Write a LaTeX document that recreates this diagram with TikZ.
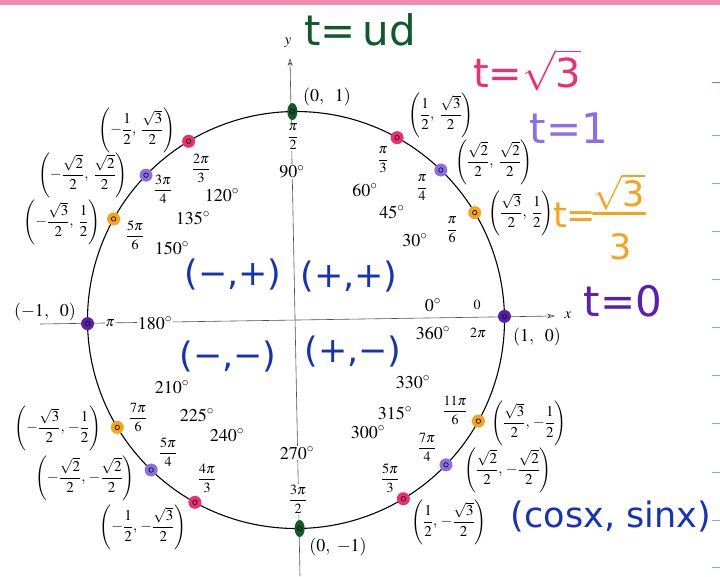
\documentclass[tikz,border=0pt]{standalone}
\usepackage{mathptmx}
\usepackage{fontspec}
\setmainfont{Liberation Serif}
\newfontfamily\hw{DejaVu Sans}
\usetikzlibrary{arrows.meta,shapes.geometric}
\definecolor{mgreen}{HTML}{0E5A28}
\definecolor{mpink}{HTML}{EC2F74}
\definecolor{mlav}{HTML}{8C6EE6}
\definecolor{morange}{HTML}{F7A21B}
\definecolor{mpurple}{HTML}{5B1FB0}
\definecolor{mblue}{HTML}{1632B8}
\definecolor{stripe}{HTML}{F38BB1}
\definecolor{tickc}{HTML}{8FA6DD}
\definecolor{axisc}{HTML}{505050}
\newcommand\fr[2]{\displaystyle\frac{#1}{#2}}
\begin{document}
\begin{tikzpicture}[x=1pt,y=-1pt,
  deg/.style={font=\fontsize{18}{20}\selectfont, inner sep=1pt},
  ang/.style={font=\fontsize{14}{16}\selectfont, inner sep=1pt},
  crd/.style={font=\fontsize{15}{17}\selectfont, inner sep=1pt},
  onaxis/.style={fill=white},
  hand/.style={font=\hw\fontsize{42}{48}\selectfont, inner sep=0pt},
  hands/.style={font=\hw\fontsize{35}{40}\selectfont, inner sep=0pt},
  blob/.style={circle, inner sep=0pt, minimum size=13pt},
  gblob/.style={ellipse, inner sep=0pt, minimum width=10pt, minimum height=17pt, fill=mgreen},
  ptmark/.style={circle, draw=black, inner sep=0pt, minimum size=4.5pt, line width=0.6pt},
  axisline/.style={draw=axisc, line width=0.6pt, -{Stealth[open,length=8pt,width=5pt]}},
]
\useasboundingbox (0,0) rectangle (720,576);
\fill[white] (0,0) rectangle (720,576);
\fill[stripe] (0,0) rectangle (720,5);
% notebook ticks at the right edge
\draw[mpink!80, line width=1pt] (712,82) -- (720,82);
\foreach \yy in {135,183,231,279,327,375,423,472,520,567}
  \draw[tickc, line width=0.8pt] (712,\yy) -- (720,\yy);

% axes
\coordinate (O) at (296,320);
\coordinate (ybot) at (300,576);
\coordinate (ytip) at (290,58);
\coordinate (xleft) at (40,324);
\coordinate (xtip) at (555,316);
\draw[axisline] (ybot) -- (ytip);
\draw[axisline] (xleft) -- (xtip);
\node[font=\fontsize{15}{17}\selectfont] (ylab) at (288,43) {$y$};
\node[font=\fontsize{15}{17}\selectfont] (xlab) at (568,315) {$x$};

% unit circle
\draw[line width=1.1pt] (O) circle[radius=208.5pt];

% coloured points
\foreach \a/\c in {0/mpurple,30/morange,45/mlav,60/mpink,120/mpink,135/mlav,150/morange,180/mpurple,210/morange,225/mlav,240/mpink,300/mpink,315/mlav,330/morange}{
  \pgfmathsetmacro\ang{-\a-1}
  \node[blob, fill=\c] (d\a) at ([shift={(\ang:208.5)}]O) {};
  \node[ptmark] (m\a) at (d\a) {};
}
\node[gblob] (d90) at ([shift={(-91:208.5)}]O) {};
\node[ptmark] (m90) at (d90) {};
\node[gblob] (d270) at ([shift={(-271:208.5)}]O) {};
\node[ptmark] (m270) at (d270) {};

% coordinates
\node[deg] (c0) at (537,337) {$(1,\ \ 0)$};
\node[deg] (c90) at (327,97) {$(0,\ \ 1)$};
\node[deg] (c180) at (45,312) {$(-1,\ \ 0)$};
\node[deg] (c270) at (338,547) {$(0,\ -1)$};
\node[crd] (c30) at (521,213) {$\left(\fr{\sqrt3}{2},\;\fr12\right)$};
\node[crd] (c45) at (494,162) {$\left(\fr{\sqrt2}{2},\;\fr{\sqrt2}{2}\right)$};
\node[crd] (c60) at (441,115) {$\left(\fr12,\;\fr{\sqrt3}{2}\right)$};
\node[crd] (c120) at (137,130) {$\left(-\fr12,\;\fr{\sqrt3}{2}\right)$};
\node[crd] (c135) at (83,175) {$\left(-\fr{\sqrt2}{2},\;\fr{\sqrt2}{2}\right)$};
\node[crd] (c150) at (62,222) {$\left(-\fr{\sqrt3}{2},\;\fr12\right)$};
\node[crd] (c210) at (58,428) {$\left(-\fr{\sqrt3}{2},\,-\fr12\right)$};
\node[crd] (c225) at (85,478) {$\left(-\fr{\sqrt2}{2},\,-\fr{\sqrt2}{2}\right)$};
\node[crd] (c240) at (143,527) {$\left(-\fr12,\,-\fr{\sqrt3}{2}\right)$};
\node[crd] (c300) at (449,522) {$\left(\fr12,\,-\fr{\sqrt3}{2}\right)$};
\node[crd] (c315) at (508,470) {$\left(\fr{\sqrt2}{2},\,-\fr{\sqrt2}{2}\right)$};
\node[crd] (c330) at (529,423) {$\left(\fr{\sqrt3}{2},\,-\fr12\right)$};

% radian labels
\node[ang] (a0) at (477,305) {$0$};
\node[ang] (a360) at (478,333) {$2\pi$};
\node[ang] (a30) at (452,230) {$\fr{\pi}{6}$};
\node[ang] (a45) at (422,188) {$\fr{\pi}{4}$};
\node[ang] (a60) at (383,160) {$\fr{\pi}{3}$};
\node[ang,onaxis] (a90) at (293,137) {$\fr{\pi}{2}$};
\node[ang] (a120) at (201,168) {$\fr{2\pi}{3}$};
\node[ang] (a135) at (163,189) {$\fr{3\pi}{4}$};
\node[ang] (a150) at (135,235) {$\fr{5\pi}{6}$};
\node[ang,onaxis] (a180) at (110,323) {$\pi$};
\node[ang] (a210) at (138,417) {$\fr{7\pi}{6}$};
\node[ang] (a225) at (168,452) {$\fr{5\pi}{4}$};
\node[ang] (a240) at (207,478) {$\fr{4\pi}{3}$};
\node[ang,onaxis] (a270) at (298,499) {$\fr{3\pi}{2}$};
\node[ang] (a300) at (390,478) {$\fr{5\pi}{3}$};
\node[ang] (a315) at (427,447) {$\fr{7\pi}{4}$};
\node[ang] (a330) at (455,410) {$\fr{11\pi}{6}$};

% degree labels
\node[deg] (g0) at (433,305) {$0^{\circ}$};
\node[deg] (g360) at (433,333) {$360^{\circ}$};
\node[deg] (g30) at (415,240) {$30^{\circ}$};
\node[deg] (g45) at (392,212) {$45^{\circ}$};
\node[deg] (g60) at (365,190) {$60^{\circ}$};
\node[deg,onaxis] (g90) at (292,172) {$90^{\circ}$};
\node[deg] (g120) at (222,195) {$120^{\circ}$};
\node[deg] (g135) at (193,218) {$135^{\circ}$};
\node[deg] (g150) at (172,248) {$150^{\circ}$};
\node[deg,onaxis] (g180) at (155,323) {$180^{\circ}$};
\node[deg] (g210) at (172,387) {$210^{\circ}$};
\node[deg] (g225) at (197,415) {$225^{\circ}$};
\node[deg] (g240) at (227,435) {$240^{\circ}$};
\node[deg,onaxis] (g270) at (297,453) {$270^{\circ}$};
\node[deg] (g300) at (368,432) {$300^{\circ}$};
\node[deg] (g315) at (395,413) {$315^{\circ}$};
\node[deg] (g330) at (413,382) {$330^{\circ}$};

% handwritten notes
\node[hand, text=mgreen] (tud) at (360,30) {t=\,ud};
\node[hand, text=mpink, font=\hw\fontsize{40}{46}\selectfont] (tr3) at (527,70) {t=$\sqrt{\mbox{3}}$};
\node[hand, text=mlav] (tone) at (569,128) {t=1};
\node[hands, text=morange, anchor=west] (tor) at (553,215) {t=};
\node[hands, text=morange] (torn) at (619,192) {$\sqrt{\mbox{3}}$};
\node[hands, text=morange] (tord) at (621,247) {3};
\draw[morange, line width=3.5pt, line cap=round] ([yshift=-3pt]torn.south west) -- ([yshift=-3pt]torn.south east);
\node[hand, text=mpurple] (tzero) at (623,301) {t=0};
\node[hands, text=mblue] (cs) at (611,517) {(cosx, sinx)};
\node[hands, text=mblue] (q2) at (233,275) {(−,+)};
\node[hands, text=mblue] (q1) at (349,277) {(+,+)};
\node[hands, text=mblue] (q3) at (228,357) {(−,−)};
\node[hands, text=mblue] (q4) at (353,352) {(+,−)};
\end{tikzpicture}
\end{document}
